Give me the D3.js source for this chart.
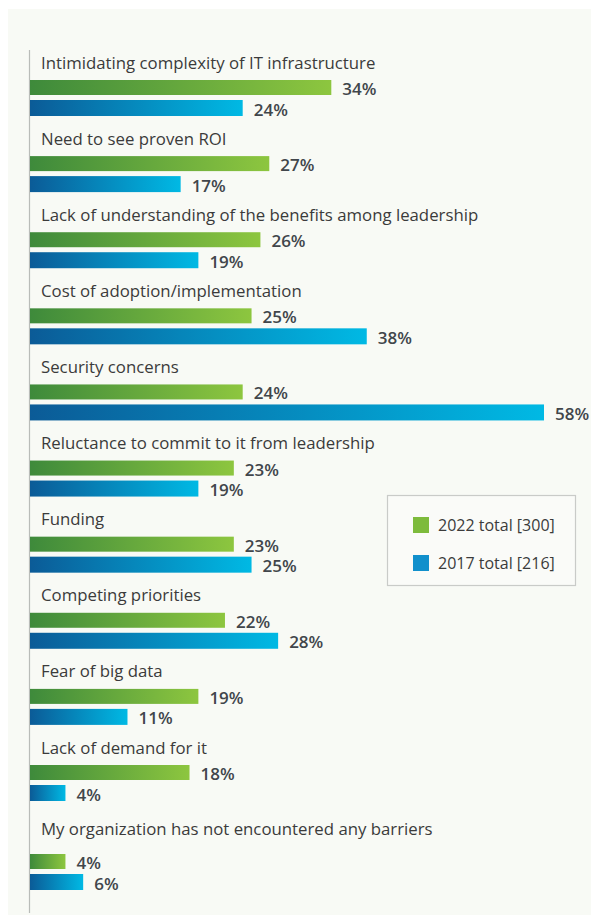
<!DOCTYPE html>
<html>
<head>
<meta charset="utf-8">
<script src="https://cdn.jsdelivr.net/npm/d3@7"></script>
<style>
  html, body { margin: 0; padding: 0; background: #ffffff; }
  svg { display: block; }
  text { font-family: "Open Sans", "Noto Sans", sans-serif; }
</style>
</head>
<body>
<svg id="chart" width="598" height="920"></svg>
<script>
// Barriers to adoption, share of respondents (%)
const categories = [
  "Intimidating complexity of IT infrastructure",
  "Need to see proven ROI",
  "Lack of understanding of the benefits among leadership",
  "Cost of adoption/implementation",
  "Security concerns",
  "Reluctance to commit to it from leadership",
  "Funding",
  "Competing priorities",
  "Fear of big data",
  "Lack of demand for it",
  "My organization has not encountered any barriers"
];
const values2022 = [34, 27, 26, 25, 24, 23, 23, 22, 19, 18, 4];
const values2017 = [24, 17, 19, 38, 58, 19, 25, 28, 11, 4, 6];
const seriesNames = ["2022 total [300]", "2017 total [216]"];

const W = 598, H = 920;
const svg = d3.select("#chart");

// panel background
svg.append("rect")
  .attr("x", 8).attr("y", 9).attr("width", 583).attr("height", 906)
  .attr("fill", "#f8faf5");

const x0 = 30;
const x = d3.scaleLinear().domain([0, 58]).range([x0, 544]);

// vertical position of each category label; the final row sits a little lower
const rowY = d3.scaleLinear().domain([0, 9]).range([62, 747]);
const labelY = i => i < 10 ? rowY(i) : rowY(9) + 81;
const greenTop = i => i < 10 ? labelY(i) + 18 : labelY(i) + 26;

const defs = svg.append("defs");
function gradient(id, c0, c1) {
  const g = defs.append("linearGradient").attr("id", id)
    .attr("x1", "0%").attr("x2", "100%").attr("y1", "0%").attr("y2", "0%");
  g.append("stop").attr("offset", "0%").attr("stop-color", c0);
  g.append("stop").attr("offset", "100%").attr("stop-color", c1);
}
gradient("g2022", "#3e8a3b", "#8dc63f");
gradient("g2017", "#0b5b97", "#00b9e4");

// axis line
svg.append("line")
  .attr("x1", 29.5).attr("x2", 29.5).attr("y1", 50).attr("y2", 913)
  .attr("stroke", "#b9bcb8").attr("stroke-width", 1.2);

const rows = svg.append("g").selectAll("g")
  .data(categories.map((c, i) => ({ c, i, a: values2022[i], b: values2017[i] })))
  .join("g");

rows.append("text")
  .attr("x", 41).attr("y", d => labelY(d.i))
  .attr("dominant-baseline", "central")
  .attr("font-size", 16.8).attr("fill", "#3b3b3b")
  .text(d => d.c);

const barSpecs = [
  { key: "a", fill: "url(#g2022)", top: d => greenTop(d.i), h: 15 },
  { key: "b", fill: "url(#g2017)", top: d => greenTop(d.i) + 20, h: 16 }
];

barSpecs.forEach(s => {
  rows.append("rect")
    .attr("x", x0).attr("y", s.top)
    .attr("width", d => x(d[s.key]) - x0)
    .attr("height", s.h)
    .attr("fill", s.fill);
  rows.append("text")
    .attr("x", d => x(d[s.key]) + 11)
    .attr("y", d => s.top(d) + s.h / 2 + 1)
    .attr("dominant-baseline", "central")
    .attr("font-size", 17).attr("font-weight", 600).attr("fill", "#41464b")
    .text(d => d[s.key] + "%");
});

// legend
const legend = svg.append("g");
legend.append("rect")
  .attr("x", 387.5).attr("y", 495.5).attr("width", 188).attr("height", 90)
  .attr("fill", "#fafbf8").attr("stroke", "#c9cbc8").attr("stroke-width", 1.2);
seriesNames.forEach((n, i) => {
  const cy = 525 + i * 38;
  legend.append("rect")
    .attr("x", 413).attr("y", cy - 8).attr("width", 16).attr("height", 16)
    .attr("fill", i === 0 ? "#7dbb3c" : "#1190cc");
  legend.append("text")
    .attr("x", 438).attr("y", cy)
    .attr("dominant-baseline", "central")
    .attr("font-size", 16).attr("fill", "#3b3b3b")
    .text(n);
});
</script>
</body>
</html>
